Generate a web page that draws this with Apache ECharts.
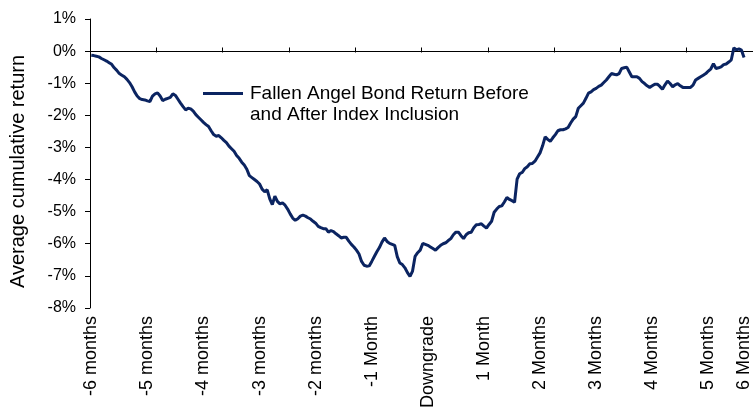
<!DOCTYPE html>
<html>
<head>
<meta charset="utf-8">
<script src="https://cdn.jsdelivr.net/npm/echarts@6/dist/echarts.min.js"></script>
<style>
  html, body { margin: 0; padding: 0; background: #ffffff; }
  #chart { width: 753px; height: 411px; }
</style>
</head>
<body>
<div id="chart"></div>
<script>
// Average cumulative return (%) per trading day, from 6 months before the
// downgrade to 6 months after index inclusion.
const returns = [
  -0.13, -0.14, -0.16, -0.18, -0.23, -0.27, -0.31, -0.36, -0.41, -0.52, -0.60,
  -0.70, -0.75, -0.80, -0.88, -0.98, -1.11, -1.27, -1.40, -1.48, -1.51, -1.52,
  -1.55, -1.57, -1.40, -1.33, -1.30, -1.40, -1.54, -1.50, -1.47, -1.44, -1.33,
  -1.38, -1.50, -1.62, -1.73, -1.83, -1.78, -1.80, -1.87, -1.98, -2.06, -2.14,
  -2.22, -2.29, -2.35, -2.48, -2.60, -2.65, -2.63, -2.70, -2.78, -2.85, -2.96,
  -3.04, -3.12, -3.25, -3.34, -3.46, -3.55, -3.68, -3.88, -3.94, -4.00, -4.06,
  -4.14, -4.30, -4.38, -4.32, -4.60, -4.78, -4.52, -4.68, -4.76, -4.73, -4.80,
  -4.92, -5.07, -5.20, -5.27, -5.22, -5.14, -5.11, -5.14, -5.19, -5.23, -5.30,
  -5.36, -5.46, -5.50, -5.53, -5.53, -5.64, -5.59, -5.62, -5.69, -5.75, -5.82,
  -5.80, -5.80, -5.92, -6.02, -6.10, -6.20, -6.32, -6.55, -6.67, -6.70, -6.69,
  -6.55, -6.40, -6.25, -6.12, -5.95, -5.82, -5.93, -5.99, -6.02, -6.05, -6.40,
  -6.60, -6.65, -6.75, -6.90, -7.02, -6.85, -6.39, -6.28, -6.20, -5.99, -6.02,
  -6.05, -6.10, -6.15, -6.20, -6.12, -6.05, -6.00, -5.97, -5.90, -5.84, -5.72,
  -5.64, -5.64, -5.75, -5.84, -5.72, -5.66, -5.64, -5.50, -5.41, -5.40, -5.38,
  -5.45, -5.51, -5.40, -5.30, -5.02, -4.92, -4.84, -4.82, -4.70, -4.56, -4.62,
  -4.66, -4.71, -3.99, -3.82, -3.78, -3.66, -3.60, -3.51, -3.50, -3.43, -3.30,
  -3.17, -2.95, -2.67, -2.75, -2.81, -2.70, -2.60, -2.48, -2.45, -2.45, -2.42,
  -2.38, -2.24, -2.12, -2.04, -1.78, -1.70, -1.62, -1.47, -1.31, -1.27, -1.20,
  -1.16, -1.10, -1.06, -0.98, -0.90, -0.80, -0.70, -0.72, -0.74, -0.70, -0.54,
  -0.52, -0.50, -0.65, -0.80, -0.80, -0.80, -0.85, -0.95, -1.01, -1.08, -1.13,
  -1.08, -1.03, -1.03, -1.10, -1.19, -1.05, -0.93, -1.01, -1.11, -1.05, -1.01,
  -1.08, -1.13, -1.13, -1.13, -1.13, -1.06, -0.90, -0.85, -0.80, -0.75, -0.70,
  -0.62, -0.55, -0.39, -0.54, -0.52, -0.49, -0.42, -0.40, -0.34, -0.27, 0.10,
  0.04, 0.07, 0.03, -0.20
];

// Month labels along the time axis
const monthLabels = [
  '-6 months', '-5 months', '-4 months', '-3 months', '-2 months', '-1 Month',
  'Downgrade', '1 Month', '2 Months', '3 Months', '4 Months', '5 Months', '6 Months'
];

const seriesName = 'Fallen Angel Bond Return Before\nand After Index Inclusion';
const daysPerMonth = 22;      // label spacing in trading days
const axisSlots = 260;        // category slots on the time axis
const tickEvery = 26;         // tick-mark spacing in slots
const yMin = -8;
const yMax = 1;

// Build the category list: month names every 22 days, last name on the final day
const categories = [];
for (let i = 0; i < axisSlots; i++) categories.push('');
for (let m = 0; m < monthLabels.length - 1; m++) categories[m * daysPerMonth] = monthLabels[m];
categories[returns.length - 1] = monthLabels[monthLabels.length - 1];

// Coarse bands (26 slots each) whose boundaries carry the tick marks on the zero line
const tickBands = [];
for (let b = 0; b < axisSlots / tickEvery; b++) tickBands.push('');

const font = '"Liberation Sans", Arial, sans-serif';
const gridBox = { left: 87, right: 0, top: 19, bottom: 99 };

// Legend key: a short line drawn at the top of the key box so it sits
// beside the first line of the two-line legend text.
const legendKey = 'path://M0,0H40V3H0Z M41.9,23.99H42V24H41.9Z';

const chart = echarts.init(document.getElementById('chart'), null, { renderer: 'canvas' });

// Lift the tick-mark axis from the plot foot up to the 0% level,
// using the chart's actual drawing height.
const plotHeight = chart.getHeight() - gridBox.top - gridBox.bottom;
const zeroLift = -plotHeight * (0 - yMin) / (yMax - yMin);

chart.setOption({
  animation: false,
  backgroundColor: '#ffffff',
  grid: Object.assign({ containLabel: false }, gridBox),
  legend: {
    show: true,
    left: 203,
    top: 83,
    padding: 0,
    itemWidth: 42,
    itemHeight: 24,
    itemGap: 0,
    icon: legendKey,
    itemStyle: { color: '#0b2461', borderWidth: 0 },
    textStyle: { fontFamily: font, fontSize: 19, color: '#000', lineHeight: 21 },
    data: [seriesName]
  },
  xAxis: [
    {
      // daily axis: line along 0%, month names at the foot of the plot
      type: 'category',
      data: categories,
      position: 'bottom',
      boundaryGap: true,
      axisLine: { show: true, onZero: true, lineStyle: { color: '#000', width: 1 } },
      axisTick: { show: false },
      axisLabel: {
        show: true, interval: 0, rotate: 90, margin: 8, hideOverlap: false,
        fontFamily: font, fontSize: 18, color: '#000'
      },
      splitLine: { show: false }
    },
    {
      // tick marks hanging below the zero line
      type: 'category',
      data: tickBands,
      position: 'bottom',
      offset: zeroLift,
      boundaryGap: true,
      axisLine: { show: false, onZero: false },
      axisTick: { show: true, length: 5, inside: false, interval: 0, lineStyle: { color: '#000', width: 1 } },
      axisLabel: { show: false },
      splitLine: { show: false }
    }
  ],
  yAxis: {
    type: 'value',
    min: yMin,
    max: yMax,
    interval: 1,
    name: 'Average cumulative return',
    nameLocation: 'middle',
    nameRotate: 90,
    nameGap: 62,
    nameTextStyle: { fontFamily: font, fontSize: 20, color: '#000', padding: [0, 16, 0, 0] },
    axisLine: { show: true, lineStyle: { color: '#000', width: 1 } },
    axisTick: { show: true, length: 5, lineStyle: { color: '#000', width: 1 } },
    axisLabel: { formatter: '{value}%', margin: 14, fontFamily: font, fontSize: 16, color: '#000' },
    splitLine: { show: false }
  },
  series: [
    {
      name: seriesName,
      type: 'line',
      xAxisIndex: 0,
      data: returns,
      showSymbol: false,
      symbol: 'none',
      smooth: false,
      lineStyle: { color: '#0b2461', width: 3 },
      itemStyle: { color: '#0b2461' }
    }
  ]
});
</script>
</body>
</html>
